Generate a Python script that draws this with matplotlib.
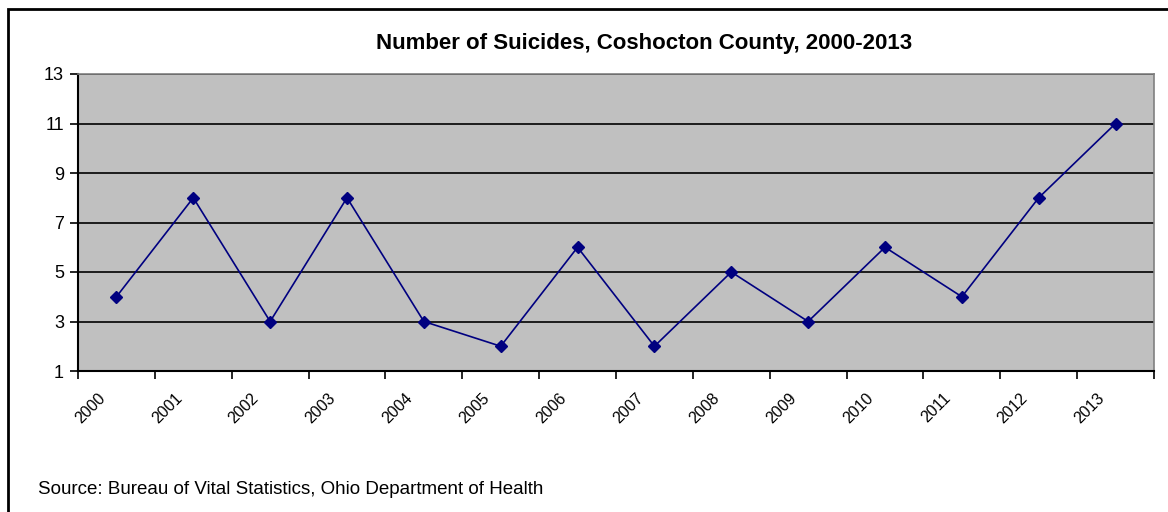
import matplotlib
matplotlib.use('Agg')
import matplotlib.pyplot as plt
import matplotlib.transforms as mtransforms
from matplotlib.patches import Rectangle

plt.rcParams['font.family'] = ['Liberation Sans', 'DejaVu Sans']

years = ['2000', '2001', '2002', '2003', '2004', '2005', '2006',
         '2007', '2008', '2009', '2010', '2011', '2012', '2013']
suicides = [4, 8, 3, 8, 3, 2, 6, 2, 5, 3, 6, 4, 8, 11]
y_ticks = [1, 3, 5, 7, 9, 11, 13]

W, H = 1168, 512
fig = plt.figure(figsize=(W / 100, H / 100), dpi=100)
fig.patch.set_facecolor('white')

# outer chart frame (runs off the right and bottom edges)
fig.patches.append(Rectangle((8 / W, -0.05), 1.2, 1 - 9 / H + 0.05,
                             transform=fig.transFigure, fill=False,
                             edgecolor='black', linewidth=2))

ax = fig.add_axes([78 / W, 1 - 371 / H, (1154 - 78) / W, (371 - 74) / H])
ax.set_facecolor('#c0c0c0')

x = list(range(len(years)))
ax.plot(x, suicides, color='#000080', linewidth=1.2, marker='D',
        markersize=6.5, markerfacecolor='#000080', markeredgecolor='#000080', zorder=3)

ax.set_ylim(1, 13)
ax.set_yticks(y_ticks)
ax.set_yticklabels([str(v) for v in y_ticks], fontsize=13)
ax.set_xlim(-0.5, len(years) - 0.5)
ax.set_xticks([i - 0.5 for i in range(len(years) + 1)])
ax.set_xticklabels([])
ax.set_xticks(x, minor=True)
ax.set_xticklabels(years, minor=True, rotation=45, ha='right', va='top',
                   rotation_mode='anchor', fontsize=11.5)
ax.tick_params(axis='x', which='minor', length=0, pad=14)
ax.tick_params(axis='x', which='major', length=6, width=1.2, direction='out')
ax.tick_params(axis='y', length=6, width=1.2, direction='out', pad=4)

# shift rotated year labels left, like the original
shift = mtransforms.ScaledTranslation(-19 / 100, 0, fig.dpi_scale_trans)
for lbl in ax.get_xticklabels(minor=True):
    lbl.set_transform(lbl.get_transform() + shift)

ax.grid(axis='y', color='black', linewidth=1.2)
ax.set_axisbelow(True)

for side in ['left', 'bottom']:
    ax.spines[side].set_color('black')
    ax.spines[side].set_linewidth(1.5)
for side in ['top', 'right']:
    ax.spines[side].set_color('#808080')
    ax.spines[side].set_linewidth(1.2)

fig.text(644 / W, 1 - 43 / H, 'Number of Suicides, Coshocton County, 2000-2013',
         ha='center', va='center', fontsize=16, fontweight='bold')
fig.text(38 / W, 1 - 489 / H, 'Source: Bureau of Vital Statistics, Ohio Department of Health',
         ha='left', va='center', fontsize=13.5)

fig.savefig('out.png', dpi=100)
